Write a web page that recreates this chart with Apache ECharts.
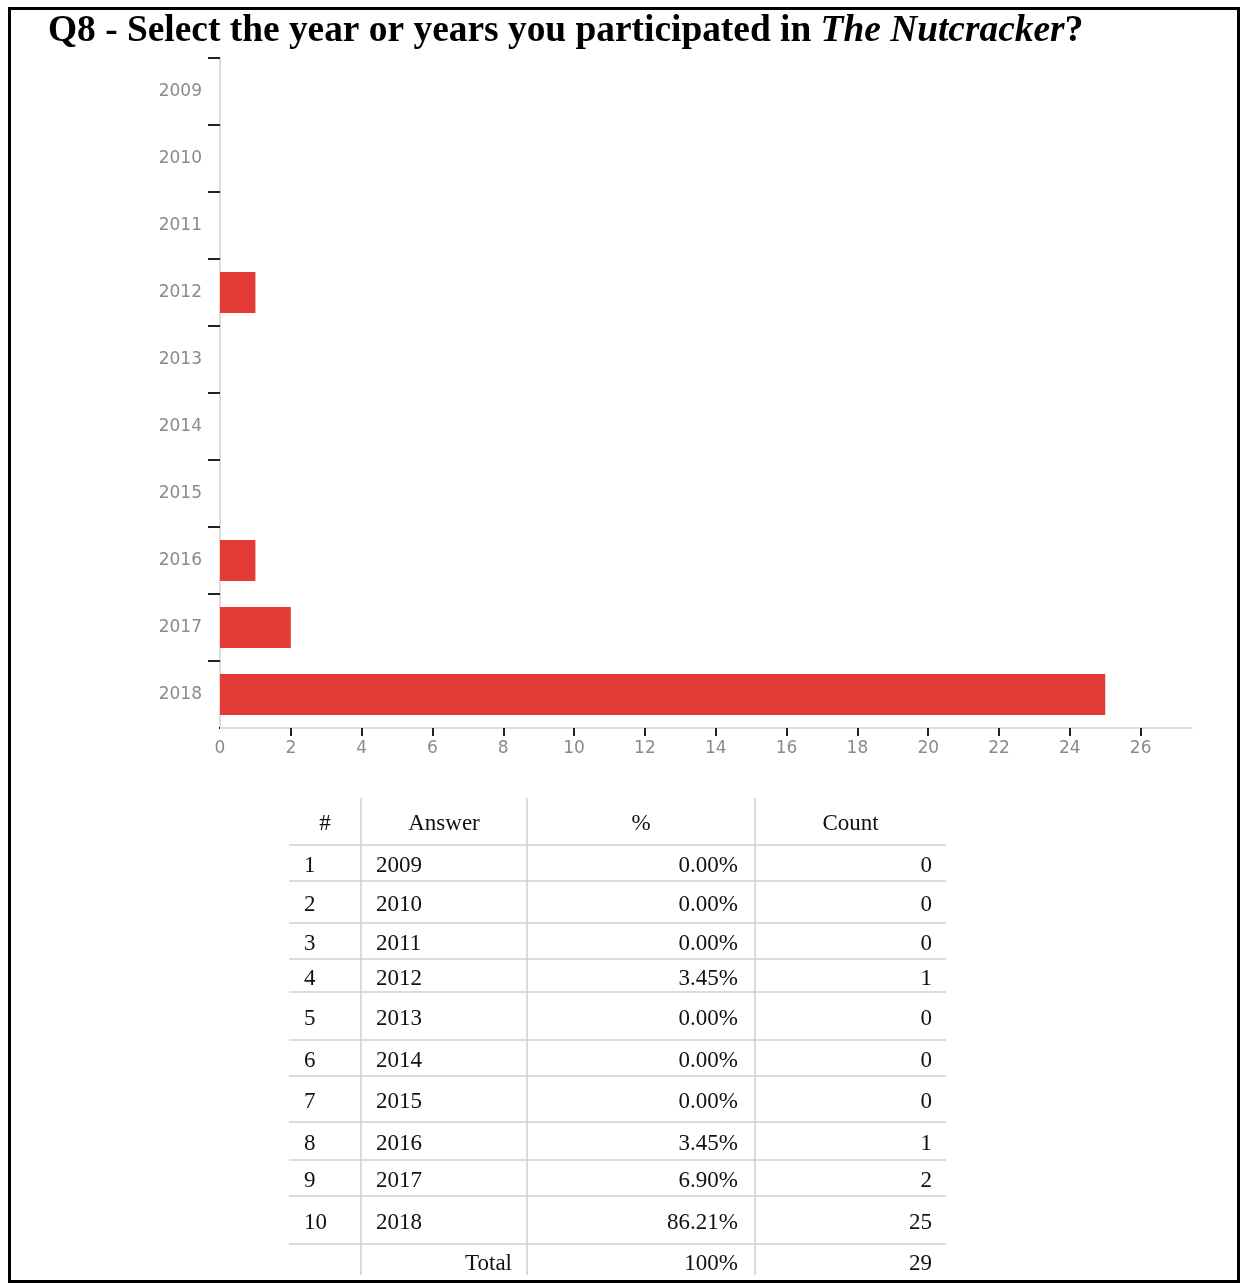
<!DOCTYPE html>
<html>
<head>
<meta charset="utf-8">
<script src="https://cdn.jsdelivr.net/npm/echarts@6/dist/echarts.min.js"></script>
<style>
  html, body { margin: 0; padding: 0; background: #fff; }
  #chart { width: 1242px; height: 1283px; }
</style>
</head>
<body>
<div id="chart"></div>
<script>
// data
var years = ['2009', '2010', '2011', '2012', '2013', '2014', '2015', '2016', '2017', '2018'];
var counts = [0, 0, 0, 1, 0, 0, 0, 1, 2, 25];
var percents = ['0.00%', '0.00%', '0.00%', '3.45%', '0.00%', '0.00%', '0.00%', '3.45%', '6.90%', '86.21%'];
var xLabels = [0, 2, 4, 6, 8, 10, 12, 14, 16, 18, 20, 22, 24, 26];
var totalPct = '100%';
var totalCount = 29;

// table layout
var tLeft = 289, tRight = 946, tTop = 798, tBottom = 1275;
var colLines = [361, 527, 755];
var rowLines = [845, 881, 923, 959, 992, 1040, 1076, 1122, 1160, 1196, 1244];

var serif = '"Liberation Serif", "Times New Roman", serif';
var lineColor = '#cfcfcf';

function txt(x, y, s, align) {
  return {
    type: 'text', x: x, y: y, z: 10,
    style: { text: s, fontSize: 23, fontFamily: serif, fill: '#111', align: align, verticalAlign: 'middle' }
  };
}
function line(x1, y1, x2, y2) {
  return {
    type: 'line', z: 5,
    shape: { x1: x1, y1: y1, x2: x2, y2: y2 },
    style: { stroke: lineColor, lineWidth: 1.5 }
  };
}

var graphics = [];
// outer frame
graphics.push({
  type: 'rect', z: 1,
  shape: { x: 9.5, y: 8.5, width: 1229, height: 1273 },
  style: { fill: null, stroke: '#000', lineWidth: 3 }
});
// the original has no tick at the bottom end of the category axis
graphics.push({
  type: 'rect', z: 20,
  shape: { x: 204, y: 725, width: 15, height: 6 },
  style: { fill: '#fff' }
});
// table grid
colLines.forEach(function (x) { graphics.push(line(x, tTop, x, tBottom)); });
rowLines.forEach(function (y) { graphics.push(line(tLeft, y, tRight, y)); });
// header
var hy = (tTop + rowLines[0]) / 2 + 2;
graphics.push(txt((tLeft + colLines[0]) / 2, hy, '#', 'center'));
graphics.push(txt((colLines[0] + colLines[1]) / 2, hy, 'Answer', 'center'));
graphics.push(txt((colLines[1] + colLines[2]) / 2, hy, '%', 'center'));
graphics.push(txt((colLines[2] + tRight) / 2, hy, 'Count', 'center'));
// rows
years.forEach(function (yr, i) {
  var y = (rowLines[i] + rowLines[i + 1]) / 2 + 3;
  graphics.push(txt(tLeft + 15, y, String(i + 1), 'left'));
  graphics.push(txt(colLines[0] + 15, y, yr, 'left'));
  graphics.push(txt(colLines[2] - 17, y, percents[i], 'right'));
  graphics.push(txt(tRight - 14, y, String(counts[i]), 'right'));
});
var ty = (rowLines[rowLines.length - 1] + tBottom) / 2 + 4;
graphics.push(txt(colLines[1] - 15, ty, 'Total', 'right'));
graphics.push(txt(colLines[2] - 17, ty, totalPct, 'right'));
graphics.push(txt(tRight - 14, ty, String(totalCount), 'right'));

var myChart = echarts.init(document.getElementById('chart'));
var option = {
  animation: false,
  title: {
    left: 48,
    top: 13,
    padding: 0,
    text: '{b|Q8 - Select the year or years you participated in }{i|The Nutcracker}{b|?}',
    textStyle: {
      rich: {
        b: { fontFamily: serif, fontWeight: 'bold', fontSize: 37.4, color: '#000' },
        i: { fontFamily: serif, fontWeight: 'bold', fontStyle: 'italic', fontSize: 37.4, color: '#000' }
      }
    }
  },
  grid: {
    left: 220,
    top: 58,
    right: 50,
    bottom: 555,
    containLabel: false
  },
  xAxis: {
    type: 'value',
    min: 0,
    max: 27.45,
    interval: 2,
    splitLine: { show: false },
    axisLine: { show: true, lineStyle: { color: '#dcdcdc', width: 2 } },
    axisTick: {
      show: true,
      length: 8,
      customValues: xLabels.slice(1),
      lineStyle: { color: '#222', width: 2 }
    },
    axisLabel: {
      customValues: xLabels,
      margin: 12,
      color: '#8a8a8a',
      fontSize: 17,
      fontFamily: '"DejaVu Sans", Verdana, sans-serif'
    }
  },
  yAxis: {
    type: 'category',
    inverse: true,
    data: years,
    axisLine: { show: true, lineStyle: { color: '#dcdcdc', width: 2 } },
    axisTick: {
      show: true,
      length: 12,
      lineStyle: { color: '#222', width: 2 }
    },
    axisLabel: {
      margin: 18,
      color: '#8a8a8a',
      fontSize: 17,
      fontFamily: '"DejaVu Sans", Verdana, sans-serif'
    }
  },
  series: [
    {
      type: 'bar',
      data: counts,
      barWidth: 41,
      itemStyle: { color: '#e43a36' }
    }
  ],
  graphic: graphics
};
myChart.setOption(option);
</script>
</body>
</html>
